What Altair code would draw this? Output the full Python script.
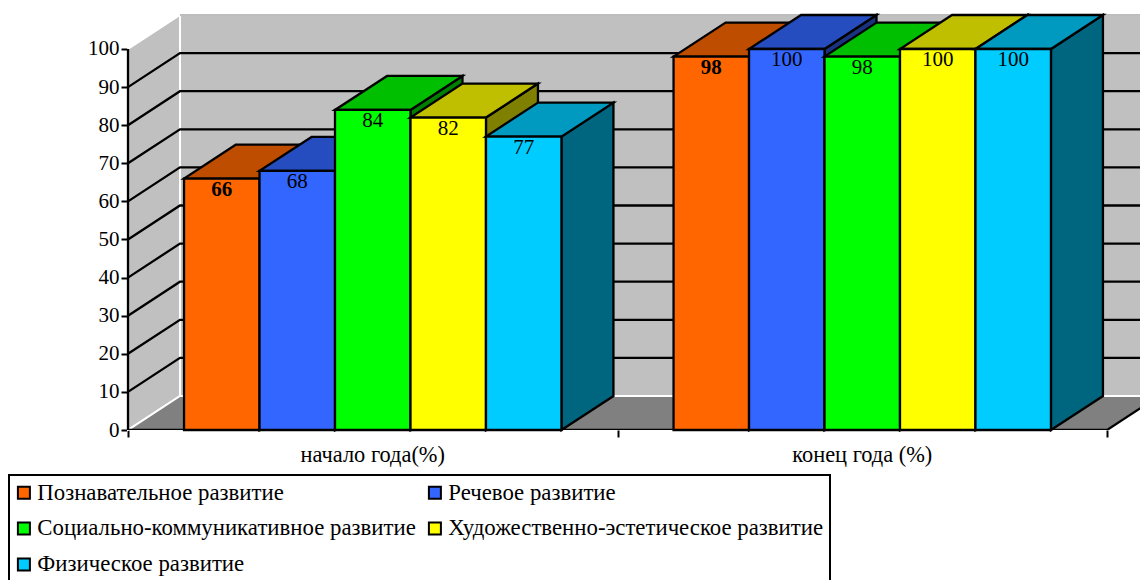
import altair as alt
import pandas as pd

categories = ["начало года(%)", "конец года (%)"]
series = ["Познавательное развитие", "Речевое развитие", "Социально-коммуникативное развитие",
          "Художественно-эстетическое развитие", "Физическое развитие"]
values = [[66, 68, 84, 82, 77], [98, 100, 98, 100, 100]]
front = ["#FF6600", "#3366FF", "#00FF00", "#FFFF00", "#00CCFF"]
top_c = ["#BF4D00", "#264DBF", "#00BF00", "#BFBF00", "#0099BF"]
side_c = ["#804000", "#1A3380", "#008000", "#808000", "#006680"]
ticks = list(range(0, 101, 10))

DX, DY = 0.1062, 8.92
XMAX = 2.0674
GAP, W = 0.1145, 0.1542
FONT = "Liberation Serif"
x_s = alt.Scale(domain=[0, XMAX], nice=False, zero=False)
y_s = alt.Scale(domain=[0, 100 + DY], nice=False, zero=False)
BLACK = dict(stroke="black", strokeWidth=2.3)

x_axis = alt.Axis(values=[0, 1, 2], labels=False, domain=False, grid=False, tickSize=7,
                  tickColor="black", tickWidth=2, title=None)
y_axis = alt.Axis(values=ticks, domain=False, grid=False, tickSize=7, tickColor="black", tickWidth=2,
                  labelFont=FONT, labelFontSize=21, labelColor="black", labelPadding=2, title=None)


def X(f="x"):
    return alt.X(f + ":Q", scale=x_s, axis=x_axis)


def Y(f="y"):
    return alt.Y(f + ":Q", scale=y_s, axis=y_axis)


layers = []

# walls and floor
left = pd.DataFrame({"x": [0, DX], "y": [0, DY], "y2": [100, 100 + DY]})
layers.append(alt.Chart(left).mark_area(fill="#C0C0C0", stroke="white", strokeWidth=2).encode(
    x=X(), y=Y(), y2="y2:Q"))
back = pd.DataFrame({"x": [DX], "x2": [XMAX + 0.1], "y": [DY], "y2": [100 + DY]})
layers.append(alt.Chart(back).mark_rect(fill="#C0C0C0", stroke="white", strokeWidth=2, clip=True).encode(
    x=X(), x2="x2:Q", y=Y(), y2="y2:Q"))
floor = pd.DataFrame({"y": [0, DY], "x": [0, DX], "x2": [2, 2 + DX]})
layers.append(alt.Chart(floor).mark_area(orient="horizontal", fill="#808080", stroke="white",
                                         strokeWidth=2, clip=True).encode(
    y=Y(), x=X(), x2="x2:Q"))
edge = pd.DataFrame({"x": [DX, XMAX], "y": [100 + DY, 100 + DY]})
layers.append(alt.Chart(edge).mark_line(stroke="#BDBDBD", strokeWidth=2).encode(x=X(), y=Y()))

# grid lines
grid_rows = []
for v in ticks[1:-1]:
    grid_rows += [dict(t=v, o=0, x=0, y=v), dict(t=v, o=1, x=DX, y=v + DY), dict(t=v, o=2, x=XMAX, y=v + DY)]
layers.append(alt.Chart(pd.DataFrame(grid_rows)).mark_line(**BLACK).encode(
    x=X(), y=Y(), detail="t:N", order="o:Q"))

# axis lines
layers.append(alt.Chart(pd.DataFrame({"x": [0, 0], "y": [0, 100]})).mark_line(**BLACK).encode(x=X(), y=Y()))
base = pd.DataFrame({"x": [0, 2, 2 + DX], "y": [0, 0, DY], "o": [0, 1, 2]})
layers.append(alt.Chart(base).mark_line(clip=True, **BLACK).encode(x=X(), y=Y(), order="o:Q"))

# bars, drawn left to right so that each one hides the side of the one before
color = alt.Color("s:N", scale=alt.Scale(domain=series, range=front),
                  legend=alt.Legend(title=None, orient="none", legendX=-119, legendY=460, columns=2,
                                    gridAlign="each", direction="horizontal",
                                    symbolType="square", symbolSize=144, symbolStrokeColor="black",
                                    symbolStrokeWidth=2, symbolOpacity=1, symbolOffset=-2.5,
                                    labelFont=FONT, labelFontSize=22.8, labelColor="black", labelLimit=600,
                                    labelOffset=2, rowPadding=12, columnPadding=8, padding=6,
                                    fillColor="white", strokeColor="black"))
for i, name in enumerate(series):
    side, top, fr = [], [], []
    for c, vals in enumerate(values):
        a = c + GAP + i * W
        b = a + W
        v = vals[i]
        side += [dict(g=c, x=b, y=0, y2=v), dict(g=c, x=b + DX, y=DY, y2=v + DY)]
        top += [dict(g=c, y=v, x=a, x2=b), dict(g=c, y=v + DY, x=a + DX, x2=b + DX)]
        fr.append(dict(x=a, x2=b, y=0, y2=v, s=name, v=v, m=(a + b) / 2))
    layers.append(alt.Chart(pd.DataFrame(side)).mark_area(fill=side_c[i], **BLACK).encode(
        x=X(), y=Y(), y2="y2:Q", detail="g:N"))
    layers.append(alt.Chart(pd.DataFrame(top)).mark_area(orient="horizontal", fill=top_c[i], **BLACK).encode(
        y=Y(), x=X(), x2="x2:Q", detail="g:N"))
    layers.append(alt.Chart(pd.DataFrame(fr)).mark_rect(opacity=1, **BLACK).encode(
        x=X(), x2="x2:Q", y=Y(), y2="y2:Q", color=color))

# data labels
for i, name in enumerate(series):
    lab = [dict(m=c + GAP + (i + 0.5) * W, v=vals[i]) for c, vals in enumerate(values)]
    layers.append(alt.Chart(pd.DataFrame(lab)).mark_text(
        font=FONT, fontSize=21, color="black", baseline="middle", dy=11,
        fontWeight="bold" if i == 0 else "normal").encode(
        x=X("m"), y=Y("v"), text="v:Q"))

# category labels
cat = pd.DataFrame({"m": [0.5, 1.5], "c": categories})
layers.append(alt.Chart(cat).mark_text(font=FONT, fontSize=22.4, color="black", baseline="middle").encode(
    x=X("m"), y=alt.value(440), text="c:N"))

chart = alt.layer(*layers).resolve_scale(color="shared").properties(
    width=1012, height=415,
    padding={"left": 120, "top": 7, "right": 0, "bottom": 150},
    autosize=alt.AutoSizeParams(type="none"),
    background="white",
).configure_view(stroke=None).configure_legend(strokeWidth=2)

chart.save("out.html", embed_options={"renderer": "svg", "actions": False})
